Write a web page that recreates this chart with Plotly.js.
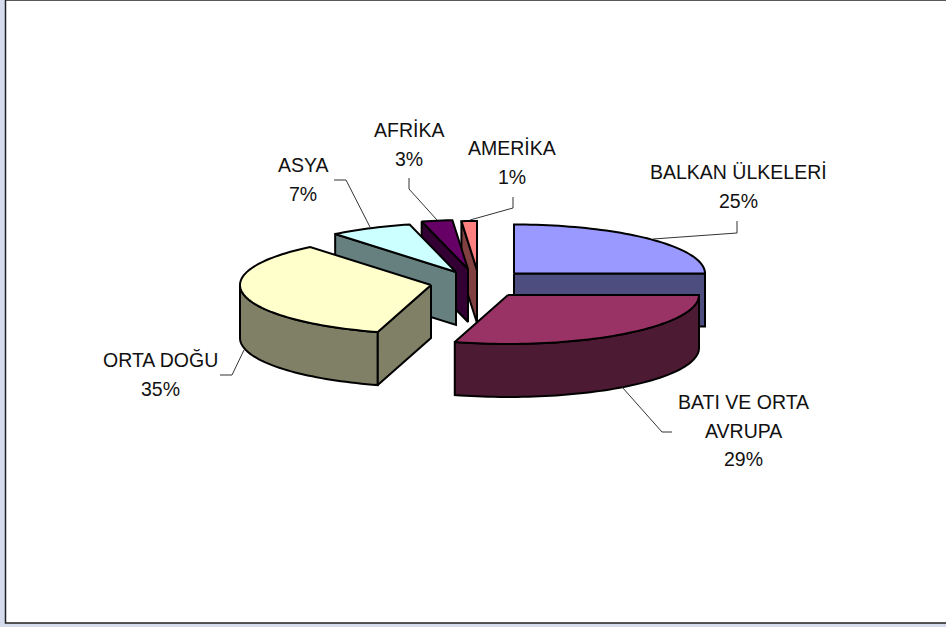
<!DOCTYPE html>
<html>
<head>
<meta charset="utf-8">
<script src="https://cdn.plot.ly/plotly-3.0.1.min.js"></script>
<style>html,body{margin:0;padding:0;background:#D6DCEE}#c{width:946px;height:627px}</style>
</head>
<body>
<div id="c"></div>
<script>
// Data
var categories = ['BALKAN ÜLKELERİ', 'BATI VE ORTA AVRUPA', 'ORTA DOĞU', 'ASYA', 'AFRİKA', 'AMERİKA'];
var values = [25, 29.49, 34.6, 7, 2.6, 1.3];
var labelLines = [['BALKAN ÜLKELERİ'], ['BATI VE ORTA', 'AVRUPA'], ['ORTA DOĞU'], ['ASYA'], ['AFRİKA'], ['AMERİKA']];

// Styling
var topColors = ['#9999FF', '#993366', '#FFFFCC', '#CCFFFF', '#660066', '#FF8080'];
var sideColors = ['#4D4D80', '#4D1A33', '#808066', '#668080', '#330033', '#804040'];

// Layout of the exploded projected pie (pixel-like axis units)
var rx = 191, ry = 49, depth = 53;
var apexX = [514, 508, 431, 456, 468, 477];
var apexY = [273.5, 295, 285, 272, 269, 270];
var drawOrder = [0, 5, 4, 3, 2, 1];
var labelX = [738, 743, 160, 303, 409, 512];
var labelY = [172, 402, 360, 165, 130, 148];
var lineGap = 28.5;
var leaderX = [[653, 737, 737], [622, 662, 672], [244, 232, 220], [370, 346, 334], [437, 409, 409], [470, 513, 513]];
var leaderY = [[239, 233, 221], [387, 432, 432], [350, 375, 375], [227, 180, 180], [220, 189, 178], [220, 208, 197]];

var total = values.reduce(function (a, b) { return a + b; }, 0);
function px(i, t) { return apexX[i] + rx * Math.sin(t); }
function py(i, t, dz) { return apexY[i] - ry * Math.cos(t) + (dz || 0); }

function poly(xs, ys, fill) {
  xs.push(xs[0]); ys.push(ys[0]);
  return {
    type: 'scatter', mode: 'lines', x: xs, y: ys, fill: 'toself', fillcolor: fill,
    line: { color: '#000', width: 2, simplify: false }, hoverinfo: 'skip', showlegend: false
  };
}
function arc(i, a, b, dz) {
  var n = Math.max(2, Math.ceil((b - a) / 0.03)), xs = [], ys = [];
  for (var k = 0; k <= n; k++) {
    var t = a + (b - a) * k / n;
    xs.push(px(i, t)); ys.push(py(i, t, dz));
  }
  return { x: xs, y: ys };
}
function cutFace(i, t, color) {
  return poly([apexX[i], px(i, t), px(i, t), apexX[i]],
              [apexY[i], py(i, t), py(i, t, depth), apexY[i] + depth], color);
}

var starts = [], ends = [], acc = 0;
values.forEach(function (v) {
  starts.push(acc / total * 2 * Math.PI);
  acc += v;
  ends.push(acc / total * 2 * Math.PI);
});

var traces = [];
drawOrder.forEach(function (i) {
  var a = starts[i], b = ends[i];
  // outer wall, visible on the front half only
  var wa = Math.max(a, Math.PI / 2), wb = Math.min(b, 3 * Math.PI / 2);
  if (wb > wa) {
    var up = arc(i, wa, wb, 0), dn = arc(i, wa, wb, depth);
    traces.push(poly(up.x.concat(dn.x.reverse()), up.y.concat(dn.y.reverse()), sideColors[i]));
  }
  // cut faces which turn toward the viewer
  if (Math.sin(a) < -1e-6) traces.push(cutFace(i, a, sideColors[i]));
  if (Math.sin(b) > 1e-6) traces.push(cutFace(i, b, sideColors[i]));
  // top face
  var t = arc(i, a, b, 0);
  traces.push(poly([apexX[i]].concat(t.x), [apexY[i]].concat(t.y), topColors[i]));
});

// leader lines
categories.forEach(function (c, i) {
  traces.push({
    type: 'scatter', mode: 'lines', x: leaderX[i], y: leaderY[i],
    line: { color: '#333', width: 1 }, hoverinfo: 'skip', showlegend: false
  });
});

// labels
var annotations = [];
labelLines.forEach(function (lines, i) {
  lines.concat([Math.round(values[i] / total * 100) + '%']).forEach(function (txt, k) {
    annotations.push({
      x: labelX[i], y: labelY[i] + k * lineGap, xref: 'x', yref: 'y', text: txt, showarrow: false,
      xanchor: 'center', yanchor: 'middle',
      font: { family: 'Liberation Sans, Arial, sans-serif', size: 19.5, color: '#111' }
    });
  });
});

var layout = {
  width: 946, height: 627,
  margin: { l: 0, r: 0, t: 0, b: 0 },
  paper_bgcolor: '#D6DCEE', plot_bgcolor: 'rgba(0,0,0,0)',
  xaxis: { range: [0, 946], visible: false, fixedrange: true },
  yaxis: { range: [627, 0], visible: false, fixedrange: true },
  showlegend: false,
  annotations: annotations,
  shapes: [{
    type: 'rect', layer: 'below', xref: 'x', yref: 'y', x0: 5.5, x1: 960, y0: 0, y1: 623,
    fillcolor: '#FFFFFF', line: { color: '#222', width: 1.5 }
  }]
};
Plotly.newPlot('c', traces, layout, { displayModeBar: false, staticPlot: true });
</script>
</body>
</html>
